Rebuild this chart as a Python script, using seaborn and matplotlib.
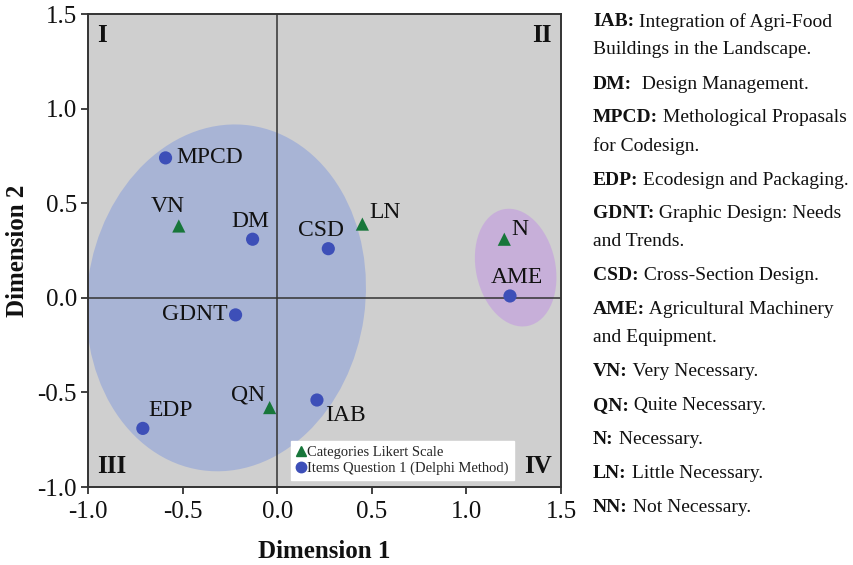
import matplotlib
matplotlib.use("Agg")
import matplotlib.pyplot as plt
import seaborn as sns
import pandas as pd
from matplotlib.patches import Ellipse
from matplotlib.lines import Line2D

# data
labels = ["MPCD", "DM", "CSD", "AME", "GDNT", "IAB", "EDP", "VN", "LN", "N", "QN"]
dim1 = [-0.59, -0.13, 0.27, 1.23, -0.22, 0.21, -0.71, -0.52, 0.45, 1.20, -0.04]
dim2 = [0.74, 0.31, 0.26, 0.01, -0.09, -0.54, -0.69, 0.38, 0.39, 0.31, -0.58]
group = ["Items"] * 7 + ["Likert"] * 4

df = pd.DataFrame({"Dimension 1": dim1, "Dimension 2": dim2, "label": labels, "group": group})

notes = [
    ("IAB:", " Integration of Agri-Food", "Buildings in the Landscape."),
    ("DM:", "  Design Management.", None),
    ("MPCD:", " Methological Propasals", "for Codesign."),
    ("EDP:", " Ecodesign and Packaging.", None),
    ("GDNT:", " Graphic Design: Needs", "and Trends."),
    ("CSD:", " Cross-Section Design.", None),
    ("AME:", " Agricultural Machinery", "and Equipment."),
    ("VN:", " Very Necessary.", None),
    ("QN:", " Quite Necessary.", None),
    ("N:", " Necessary.", None),
    ("LN:", " Little Necessary.", None),
    ("NN:", " Not Necessary.", None),
]

sns.set_style("ticks")
plt.rcParams['font.family'] = ['Liberation Serif', 'DejaVu Serif']

fig = plt.figure(figsize=(8.54, 5.65), dpi=100)
ax = fig.add_axes([0.103, 0.138, 0.554, 0.837])
ax.set_facecolor("#cfcfcf")

# group ellipses
ax.add_patch(Ellipse((-0.27, 0.0), 1.47, 1.84, angle=-8, facecolor="#8fa2da", alpha=0.6,
                     edgecolor="none", zorder=1))
ax.add_patch(Ellipse((1.26, 0.16), 0.42, 0.63, angle=12, facecolor="#c39be0", alpha=0.6,
                     edgecolor="none", zorder=1))

ax.axhline(0, color="#333333", lw=1.1, zorder=2)
ax.axvline(0, color="#333333", lw=1.1, zorder=2)

sns.scatterplot(data=df, x="Dimension 1", y="Dimension 2", hue="group", style="group",
                palette={"Items": "#3d4fb8", "Likert": "#17763a"},
                markers={"Items": "o", "Likert": "^"}, s=90, edgecolor="none",
                legend=False, ax=ax, zorder=3)

offsets = {"MPCD": (8, 0, "left"), "DM": (-2, 13, "center"), "CSD": (-5, 13, "center"),
           "AME": (5, 13, "center"), "GDNT": (-6, 0, "right"), "IAB": (6, -11, "left"),
           "EDP": (20, 13, "center"), "VN": (-8, 14, "center"), "LN": (5, 8, "left"),
           "N": (5, 7, "left"), "QN": (-3, 9, "right")}
for lab, x, y in zip(labels, dim1, dim2):
    dx, dy, ha = offsets[lab]
    ax.annotate(lab, (x, y), xytext=(dx, dy), textcoords="offset points",
                ha=ha, va="center", fontsize=17, color="#111111", zorder=4)

for txt, x, y, ha, va in [("I", -0.95, 1.45, "left", "top"), ("II", 1.45, 1.45, "right", "top"),
                          ("III", -0.95, -0.95, "left", "bottom"), ("IV", 1.45, -0.95, "right", "bottom")]:
    ax.text(x, y, txt, ha=ha, va=va, fontsize=18, fontweight="bold", color="#111111")

ax.set_xlim(-1.0, 1.5)
ax.set_ylim(-1.0, 1.5)
ax.set_xticks([-1.0, -0.5, 0.0, 0.5, 1.0, 1.5])
ax.set_yticks([-1.0, -0.5, 0.0, 0.5, 1.0, 1.5])
ax.set_xticklabels(["-1.0", "-0.5", "0.0", "0.5", "1.0", "1.5"])
ax.set_yticklabels(["-1.0", "-0.5", "0.0", "0.5", "1.0", "1.5"])
ax.tick_params(labelsize=18, width=1.3, length=5, color="#333333", labelcolor="#111111")
ax.tick_params(axis="x", pad=5)
ax.tick_params(axis="y", pad=3)
for sp in ax.spines.values():
    sp.set_visible(True)
    sp.set_color("#333333")
    sp.set_linewidth(1.4)
ax.set_xlabel("Dimension 1", fontsize=18, fontweight="bold", labelpad=12, color="#111111")
ax.set_ylabel("Dimension 2", fontsize=18, fontweight="bold", labelpad=6, color="#111111")

handles = [Line2D([], [], marker="^", color="#17763a", ls="none", markersize=7.5),
           Line2D([], [], marker="o", color="#3d4fb8", ls="none", markersize=7.5)]
ax.legend(handles, ["Categories Likert Scale", "Items Question 1 (Delphi Method)"],
          loc="lower left", bbox_to_anchor=(0.43, 0.015), fontsize=10.5, frameon=True,
          fancybox=False, framealpha=1, edgecolor="white", handlelength=0.6,
          handletextpad=0.15, borderpad=0.35, labelspacing=0.15, borderaxespad=0)

# abbreviations on the right
fig.canvas.draw()
renderer = fig.canvas.get_renderer()
y = 565 - 22
for bold, rest, cont in notes:
    t = fig.text(593 / 854, y / 565, bold, fontsize=14, fontweight="bold", va="center",
                 ha="left", color="#111111")
    bb = t.get_window_extent(renderer)
    fig.text(bb.x1 / 854, y / 565, rest, fontsize=14, va="center", ha="left", color="#111111")
    if cont:
        y -= 28
        fig.text(593 / 854, y / 565, cont, fontsize=14, va="center", ha="left", color="#111111")
    y -= 34

fig.savefig("out.png", dpi=100)
